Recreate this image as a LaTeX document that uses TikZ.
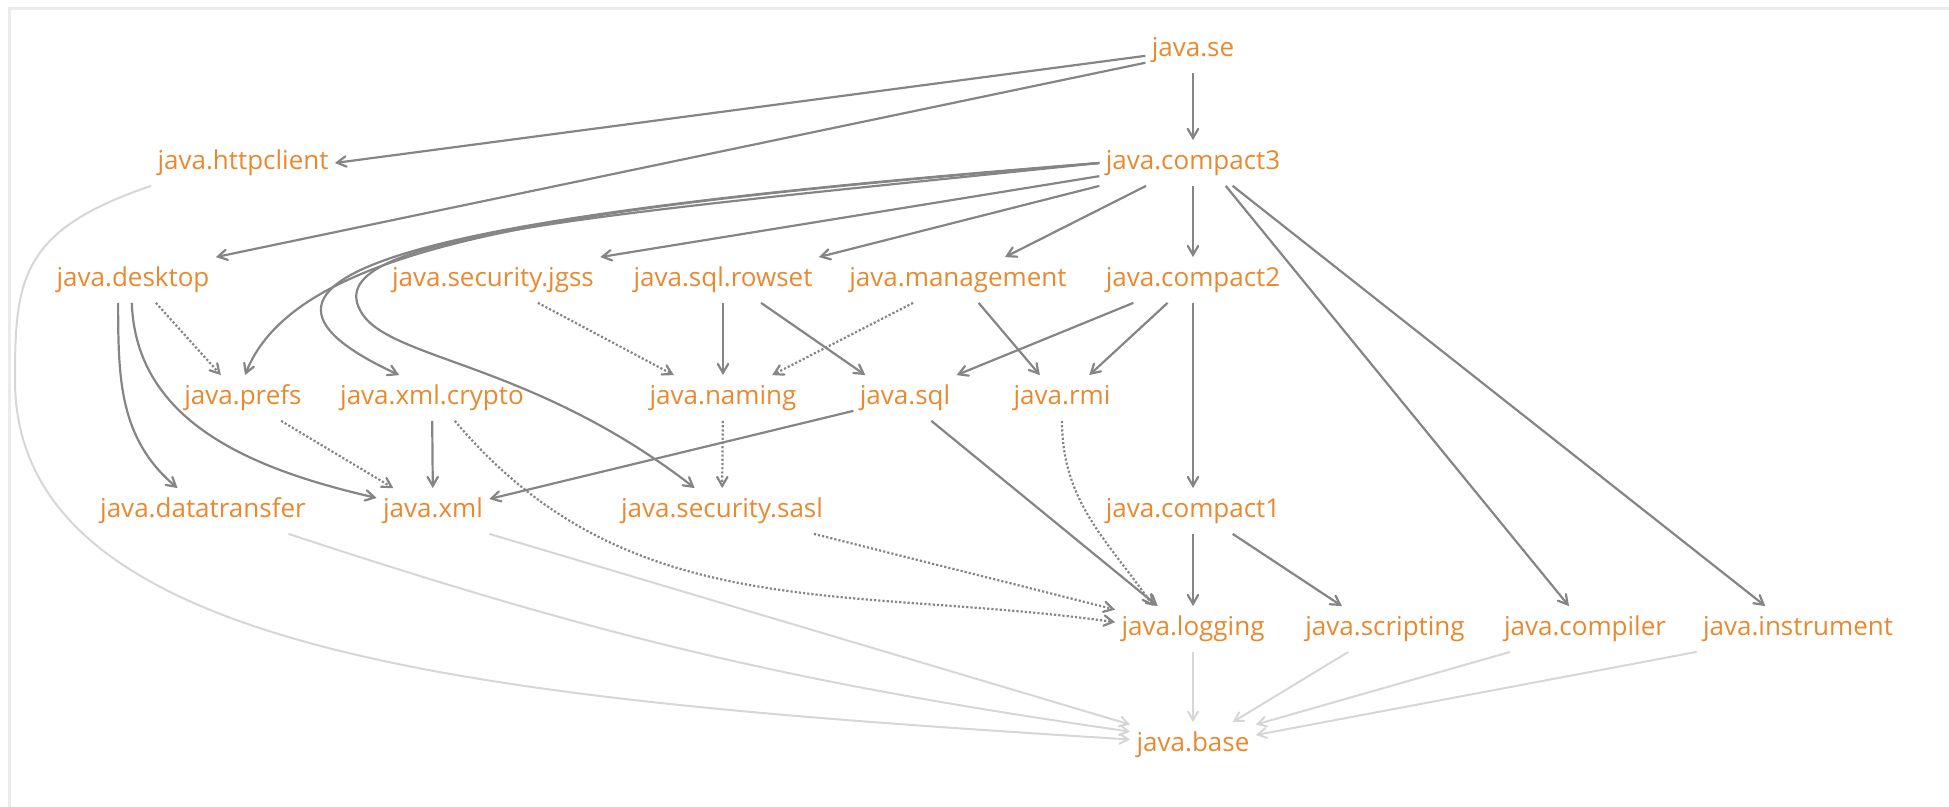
\documentclass[tikz,border=0pt]{standalone}
\usepackage{fontspec}
\setmainfont{Open Sans}
\usetikzlibrary{arrows}

\definecolor{modorange}{HTML}{E8892F}
\definecolor{depgray}{HTML}{858585}
\definecolor{basegray}{HTML}{D6D6D6}
\definecolor{framegray}{HTML}{EBEBEB}

\begin{document}
\begin{tikzpicture}[x=0.5pt,y=-0.5pt,>=angle 60,
  mod/.style={text=modorange,font=\fontsize{13}{15}\selectfont,text height=9.5pt,text depth=3pt,inner xsep=3pt,inner ysep=5pt},
  dep/.style={->,draw=depgray,line width=1.1pt},
  qual/.style={dep,densely dotted},
  bdep/.style={->,draw=basegray,line width=1pt}]

      \useasboundingbox (0,0) rectangle (1949,807);
      % frame
      \draw[framegray,line width=1.5pt] (9,807) -- (9,9) -- (1949,9);

      % rows 1 and 2
      \node[mod] (se) at (1193,50) {java.se};
      \node[mod] (http) at (243,163) {java.httpclient};
      \node[mod] (c3) at (1193,163) {java.compact3};
      % row 3
      \node[mod] (desk) at (133,280) {java.desktop};
      \node[mod] (jgss) at (493,280) {java.security.jgss};
      \node[mod] (rowset) at (723,280) {java.sql.rowset};
      \node[mod] (mgmt) at (958,280) {java.management};
      \node[mod] (c2) at (1193,280) {java.compact2};
      % row 4
      \node[mod] (prefs) at (243,398) {java.prefs};
      \node[mod] (xcrypto) at (432,398) {java.xml.crypto};
      \node[mod] (naming) at (723,398) {java.naming};
      \node[mod] (sql) at (905,398) {java.sql};
      \node[mod] (rmi) at (1062,398) {java.rmi};
      % row 5
      \node[mod] (dt) at (203,511) {java.datatransfer};
      \node[mod] (xml) at (433,511) {java.xml};
      \node[mod] (sasl) at (722,511) {java.security.sasl};
      \node[mod] (c1) at (1193,511) {java.compact1};
      % row 6
      \node[mod] (logging) at (1193,629) {java.logging};
      \node[mod] (script) at (1385,629) {java.scripting};
      \node[mod] (compiler) at (1585,629) {java.compiler};
      \node[mod] (instr) at (1798,629) {java.instrument};
      % row 7
      \node[mod] (base) at (1193,745) {java.base};

      % java.se
      \draw[dep] (se) -- (c3);
      \draw[dep] (se.187) -- (http.east);
      \draw[dep] (se.195) -- (desk.north east);

      % java.compact3
      \draw[dep] (c3.west) .. controls (600,205) and (300,235) .. (prefs.85);
      \draw[dep] (c3.west) .. controls (500,210) and (160,265) .. (xcrypto.145);
      \draw[dep] (c3.west) .. controls (600,215) and (320,235) .. (360,310)
                 .. controls (385,360) and (530,360) .. (sasl.140);
      \draw[dep] (c3.188) -- (jgss.north east);
      \draw[dep] (c3.south west) -- (rowset.north east);
      \draw[dep] (c3.206) -- (mgmt.26);
      \draw[dep] (c3) -- (c2);
      \draw[dep] (c3.-35) -- (compiler.125);
      \draw[dep] (c3.-30) -- (instr.145);

      % java.desktop
      \draw[qual] (desk.-45) -- (prefs.134);
      \draw[dep] (desk.237) to[out=-90,in=140] (dt.138);
      \draw[dep] (desk.267) to[out=-88,in=167] (xml.167);

      % java.compact2
      \draw[dep] (c2.201) -- (sql.north east);
      \draw[dep] (c2.222) -- (rmi.40);
      \draw[dep] (c2) -- (c1);

      % row 3
      \draw[qual] (jgss.-27) -- (naming.155);
      \draw[dep] (rowset) -- (naming);
      \draw[dep] (rowset.-31) -- (sql.150);
      \draw[qual] (mgmt.207) -- (naming.25);
      \draw[dep] (mgmt.-48) -- (rmi.134);

      % row 4
      \draw[qual] (prefs.-31) -- (xml.150);
      \draw[dep] (xcrypto) -- (xml);
      \draw[qual] (xcrypto.-45) to[out=-50,in=172] (logging.175);
      \draw[qual] (naming) -- (sasl);
      \draw[dep] (sql.194) -- (xml.12);
      \draw[dep] (sql.-41) -- (logging.147);
      \draw[qual] (rmi.south) to[out=-90,in=125] (logging.150);
      \draw[qual] (sasl.-14) -- (logging.166);

      % java.compact1
      \draw[dep] (c1) -- (logging);
      \draw[dep] (c1.-30) -- (script.152);

      % java.base
      \draw[bdep] (logging) -- (base);
      \draw[bdep] (script.212) -- (base.30);
      \draw[bdep] (compiler.197) -- (base.18);
      \draw[bdep] (instr.south west) -- (base.9);
      \draw[bdep] (xml.south east) -- (base.162);
      \draw[bdep] (dt.-15) to[bend right=5] (base.168);
      \draw[bdep] (http.south west) .. controls (20,230) and (15,280) .. (15,380)
                  .. controls (15,660) and (500,700) .. (base.175);
    \end{tikzpicture}
\end{document}
